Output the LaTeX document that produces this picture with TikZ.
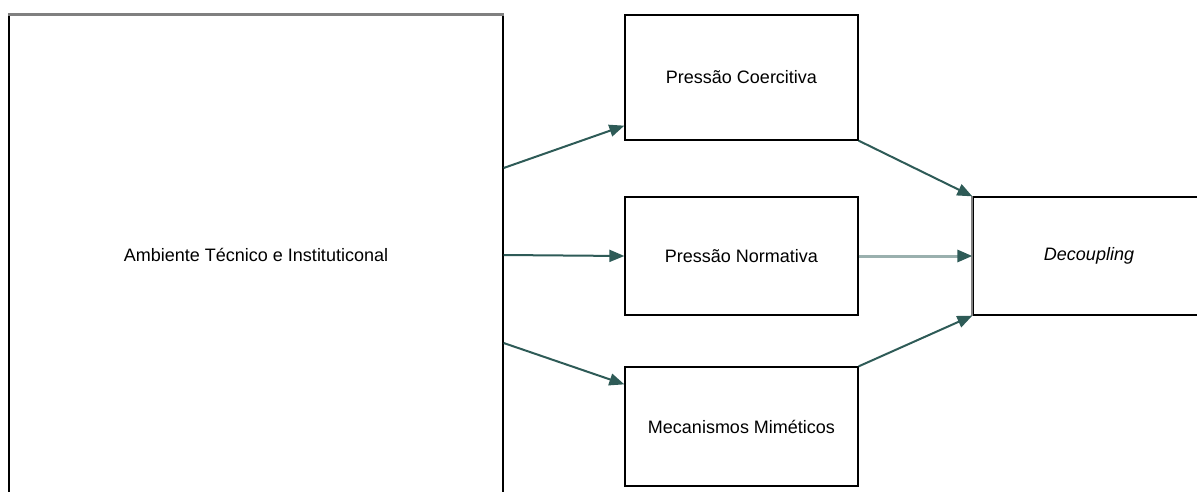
\documentclass[tikz,border=0pt]{standalone}
\usepackage{fontspec}
\setmainfont{Liberation Sans}
\usetikzlibrary{arrows.meta}
\definecolor{arr}{HTML}{2E5B57}
\definecolor{arrlight}{HTML}{9AB0AE}
\definecolor{edgegray}{HTML}{808080}
\tikzset{
  box/.style={draw=black, line width=1.3pt, fill=white, inner sep=0pt, font=\fontsize{18}{21}\selectfont},
  flow/.style={draw=arr, line width=2pt, -{Triangle[length=15pt,width=12pt]}},
  flowlight/.style={draw=arrlight, line width=3pt, -{Triangle[length=15pt,width=12pt,color=arr,fill=arr]}},
}
\begin{document}
\begin{tikzpicture}[x=1pt,y=-1pt]
\useasboundingbox (0,0) rectangle (1197,491);
\clip (0,0) rectangle (1197,491);
\node[box, minimum width=494pt, minimum height=480pt] (amb) at (256,255) {Ambiente Técnico e Instituticonal};
\node[box, minimum width=233pt, minimum height=125pt] (coer) at (741.5,77.5) {Pressão Coercitiva};
\node[box, minimum width=233pt, minimum height=118pt] (norm) at (741.5,256) {Pressão Normativa};
\node[box, minimum width=233pt, minimum height=119pt] (mim) at (741.5,426.5) {Mecanismos Miméticos};
\node[box, minimum width=232pt, minimum height=118pt, font=\fontsize{18}{21}\selectfont\itshape] (dec) at (1089,256) {Decoupling};
\draw[edgegray, line width=2.5pt] (amb.north west) -- (amb.north east);
\draw[edgegray, line width=2.2pt] (dec.north west) -- (dec.south west);
\draw[flow] ([yshift=87pt]amb.east) -- ([yshift=15pt]coer.south west);
\draw[flow] (amb.east) -- (norm.west);
\draw[flow] ([yshift=-88pt]amb.east) -- ([yshift=-18pt]mim.north west);
\draw[flow] (coer.south east) -- (dec.north west);
\draw[flowlight] (norm.east) -- (dec.west);
\draw[flow] (mim.north east) -- (dec.south west);
\end{tikzpicture}
\end{document}
